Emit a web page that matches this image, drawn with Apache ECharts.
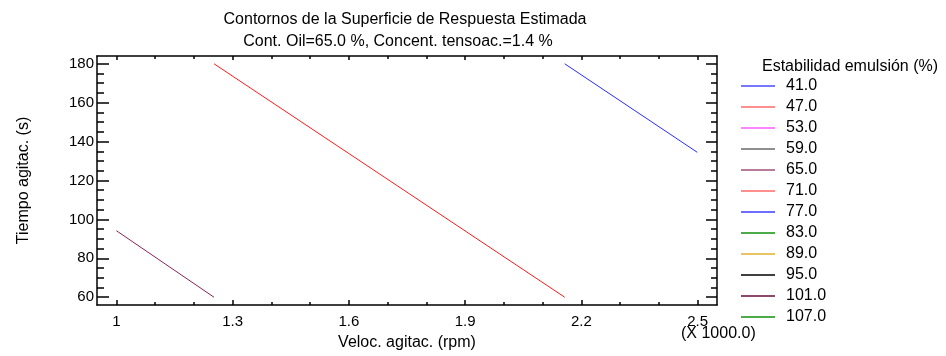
<!DOCTYPE html>
<html>
<head>
<meta charset="utf-8">
<script src="https://cdn.jsdelivr.net/npm/echarts@6/dist/echarts.min.js"></script>
<style>
    * { margin: 0; padding: 0; }
    body { background: #fff; }
</style>
</head>
<body>
<!-- contenedor del grafico -->
<div id="contour" style="width: 946px;height: 356px;"></div>
<script>
    // niveles de contorno de la leyenda
    var levels = ['41.0', '47.0', '53.0', '59.0', '65.0', '71.0', '77.0', '83.0', '89.0', '95.0', '101.0', '107.0'];
    var levelColors = ['#4a4aff', '#ff6a6a', '#ff5cff', '#6a6a6a', '#a0507a', '#ff6a6a', '#3c3cff', '#109010', '#e0b030', '#000000', '#6a0a3a', '#109010'];

    // ticks de los ejes
    var xTicks = [1, 1.3, 1.6, 1.9, 2.2, 2.5];
    var xMinor = [1.1, 1.2, 1.4, 1.5, 1.7, 1.8, 2.0, 2.1, 2.3, 2.4];
    var yTicks = [60, 80, 100, 120, 140, 160, 180];
    var yMinor = [65, 70, 75, 85, 90, 95, 105, 110, 115, 125, 130, 135, 145, 150, 155, 165, 170, 175];

    // contornos visibles (veloc. x1000, tiempo s)
    var line65 = [[1.0, 94.2], [1.252, 60]];
    var line71 = [[1.252, 180], [2.157, 60]];
    var line77 = [[2.157, 180], [2.499, 134.5]];
    var contourData = { '65.0': line65, '71.0': line71, '77.0': line77 };
    var lineColors = { '65.0': '#8b2258', '71.0': '#ff1a1a', '77.0': '#2a2aff' };

    var font = 'Liberation Sans, Arial, sans-serif';
    var chart = echarts.init(document.getElementById('contour'));

    function axisX(pos, ticks, len, labels) {
        return {
            type: 'value', position: pos, min: 0.95, max: 2.55,
            axisLine: { show: labels, onZero: false, lineStyle: { color: '#000', width: 1.5 } },
            axisTick: { show: true, inside: true, length: len, customValues: ticks, lineStyle: { color: '#000', width: 1.5 } },
            axisLabel: { show: labels && pos == 'bottom', customValues: xTicks, color: '#000', fontSize: 15, fontFamily: font, margin: 9 },
            splitLine: { show: false }
        };
    }
    function axisY(pos, ticks, len, labels) {
        return {
            type: 'value', position: pos, min: 56, max: 184,
            axisLine: { show: labels, onZero: false, lineStyle: { color: '#000', width: 1.5 } },
            axisTick: { show: true, inside: true, length: len, customValues: ticks, lineStyle: { color: '#000', width: 1.5 } },
            axisLabel: { show: labels && pos == 'left', customValues: yTicks, color: '#000', fontSize: 15, fontFamily: font, margin: 3 },
            splitLine: { show: false }
        };
    }

    var series = levels.map(function (lv, i) {
        return {
            name: lv,
            type: 'line',
            data: contourData[lv] || [],
            showSymbol: false,
            symbol: 'none',
            silent: true,
            lineStyle: { color: lineColors[lv] || levelColors[i], width: 1 },
            itemStyle: { color: levelColors[i] }
        };
    });

    chart.setOption({
        animation: false,
        title: [
            { text: 'Contornos de la Superficie de Respuesta Estimada', left: 400, top: 7, textAlign: 'center',
              textStyle: { fontSize: 16, fontWeight: 'normal', color: '#000', fontFamily: font } },
            { text: 'Cont. Oil=65.0 %, Concent. tensoac.=1.4 %', left: 393, top: 29, textAlign: 'center',
              textStyle: { fontSize: 16, fontWeight: 'normal', color: '#000', fontFamily: font } },
            { text: 'Estabilidad emulsión (%)', left: 757, top: 54,
              textStyle: { fontSize: 16, fontWeight: 'normal', color: '#000', fontFamily: font } },
            { text: '(X 1000.0)', left: 676, top: 321,
              textStyle: { fontSize: 16, fontWeight: 'normal', color: '#000', fontFamily: font } }
        ],
        grid: { left: 97, right: 229, top: 56, bottom: 50, containLabel: false },
        legend: {
            orient: 'vertical',
            left: 741,
            top: 78,
            padding: 0,
            icon: 'rect',
            itemWidth: 34,
            itemHeight: 1.5,
            itemGap: 5,
            textStyle: { fontSize: 16, color: '#000', fontFamily: font, padding: [0, 0, 0, 6] },
            data: levels,
            selectedMode: false
        },
        xAxis: [
            Object.assign(axisX('bottom', xTicks, 5, true), {
                name: 'Veloc. agitac. (rpm)', nameLocation: 'middle', nameGap: 30,
                nameTextStyle: { fontSize: 16, color: '#000', fontFamily: font }
            }),
            axisX('bottom', xMinor, 3, false),
            axisX('top', xTicks, 4, true),
            axisX('top', xMinor, 3, false)
        ],
        yAxis: [
            Object.assign(axisY('left', yTicks, 12, true), {
                name: 'Tiempo agitac. (s)', nameLocation: 'middle', nameGap: 65,
                nameTextStyle: { fontSize: 16, color: '#000', fontFamily: font }
            }),
            axisY('left', yMinor, 7, false),
            axisY('right', yTicks, 11, true),
            axisY('right', yMinor, 6, false)
        ],
        series: series
    });
</script>
</body>
</html>
